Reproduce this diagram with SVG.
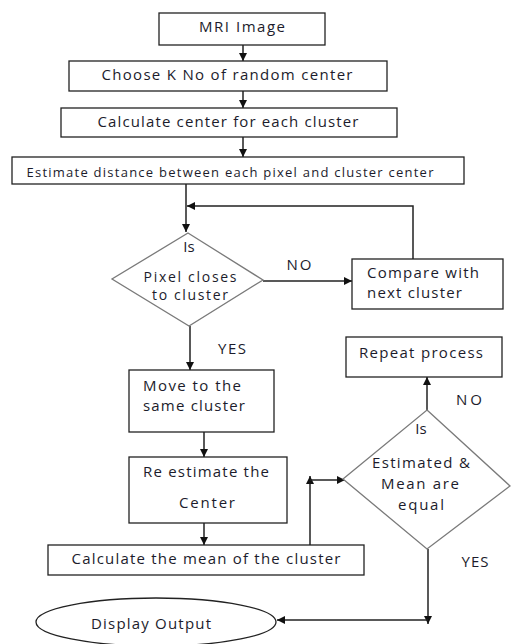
<svg xmlns="http://www.w3.org/2000/svg" width="511" height="644" viewBox="0 0 511 644">
<defs>
<marker id="ah" viewBox="0 0 10 10" refX="10" refY="5" markerWidth="8" markerHeight="8" markerUnits="userSpaceOnUse" orient="auto">
<path d="M0,0 L10,5 L0,10 Z" fill="#111"/>
</marker>
</defs>
<style>
.box{fill:#fff;stroke:#222;stroke-width:1.3}
.dia{fill:#fff;stroke:#7a7a7a;stroke-width:1.3}
.t{font-family:"Open Sans","Liberation Sans",sans-serif;font-size:15px;fill:#1c1c2c}
.s{font-size:13px}
.m{font-size:14px}
.c{text-anchor:middle}
.ln{fill:none;stroke:#222;stroke-width:1.5}
</style>
<rect width="511" height="644" fill="#fff"/>
<g id="connectors">
<line class="ln" x1="243" y1="45" x2="243" y2="61" marker-end="url(#ah)"/>
<line class="ln" x1="243" y1="91" x2="243" y2="108" marker-end="url(#ah)"/>
<line class="ln" x1="243" y1="137" x2="243" y2="157" marker-end="url(#ah)"/>
<line class="ln" x1="186" y1="184" x2="186" y2="232" marker-end="url(#ah)"/>
<polyline class="ln" points="413,259 413,206 187,206" marker-end="url(#ah)"/>
<line class="ln" x1="263" y1="281" x2="352" y2="281" marker-end="url(#ah)"/>
<line class="ln" x1="190" y1="326" x2="190" y2="370" marker-end="url(#ah)"/>
<line class="ln" x1="204" y1="432" x2="204" y2="457" marker-end="url(#ah)"/>
<line class="ln" x1="204" y1="523" x2="204" y2="545" marker-end="url(#ah)"/>
<line class="ln" x1="310" y1="545" x2="310" y2="476" marker-end="url(#ah)"/>
<line class="ln" x1="310" y1="480" x2="345" y2="480" marker-end="url(#ah)"/>
<line class="ln" x1="427" y1="410" x2="427" y2="377" marker-end="url(#ah)"/>
<line class="ln" x1="428" y1="549" x2="428" y2="624" marker-end="url(#ah)"/>
<line class="ln" x1="428" y1="620" x2="277" y2="620" marker-end="url(#ah)"/>
</g>
<g id="mri">
<rect class="box" x="159" y="13" width="166" height="32"/>
<text class="t c" x="242" y="32" textLength="86">MRI Image</text>
</g>
<g id="choose">
<rect class="box" x="69" y="61" width="318" height="30"/>
<text class="t c" x="227" y="80" textLength="251">Choose K No of random center</text>
</g>
<g id="calc-center">
<rect class="box" x="61" y="108" width="336" height="29"/>
<text class="t c" x="228" y="127" textLength="261">Calculate center for each cluster</text>
</g>
<g id="estimate">
<rect class="box" x="12" y="157" width="452" height="27"/>
<text class="t s c" x="230" y="177" textLength="407">Estimate distance between each pixel and cluster center</text>
</g>
<g id="decision1">
<polygon class="dia" points="188,233 263,280 189,326 112,279"/>
<text class="t c" x="189" y="252">Is</text>
<text class="t m c" x="190" y="282" textLength="93">Pixel closes</text>
<text class="t m c" x="190" y="300" textLength="76">to cluster</text>
<text class="t c" x="299" y="270" textLength="25">NO</text>
<text class="t c" x="232" y="354" textLength="28">YES</text>
</g>
<g id="compare">
<rect class="box" x="352" y="259" width="151" height="50"/>
<text class="t" x="367" y="278" textLength="112">Compare with</text>
<text class="t" x="367" y="298" textLength="95">next cluster</text>
</g>
<g id="move">
<rect class="box" x="129" y="370" width="145" height="62"/>
<text class="t" x="143" y="391" textLength="98">Move to the</text>
<text class="t" x="143" y="411" textLength="102">same cluster</text>
</g>
<g id="reestimate">
<rect class="box" x="129" y="457" width="158" height="66"/>
<text class="t" x="143" y="477" textLength="126">Re estimate the</text>
<text class="t c" x="207" y="508" textLength="56">Center</text>
</g>
<g id="mean">
<rect class="box" x="48" y="545" width="316" height="30"/>
<text class="t c" x="206" y="564" textLength="269">Calculate the mean of the cluster</text>
</g>
<g id="decision2">
<polygon class="dia" points="427,410 510,486 427,549 343,479"/>
<text class="t c" x="421" y="434">Is</text>
<text class="t c" x="421" y="468" textLength="98">Estimated &amp;</text>
<text class="t c" x="420" y="489" textLength="78">Mean are</text>
<text class="t c" x="421" y="510" textLength="46">equal</text>
<text class="t c" x="469" y="405" textLength="26">NO</text>
<text class="t c" x="475" y="567" textLength="27">YES</text>
</g>
<g id="repeat">
<rect class="box" x="346" y="337" width="156" height="40"/>
<text class="t" x="359" y="358" textLength="124">Repeat process</text>
</g>
<g id="output">
<ellipse class="box" cx="156" cy="622" rx="120" ry="24"/>
<text class="t c" x="151" y="629" textLength="120">Display Output</text>
</g>
</svg>
